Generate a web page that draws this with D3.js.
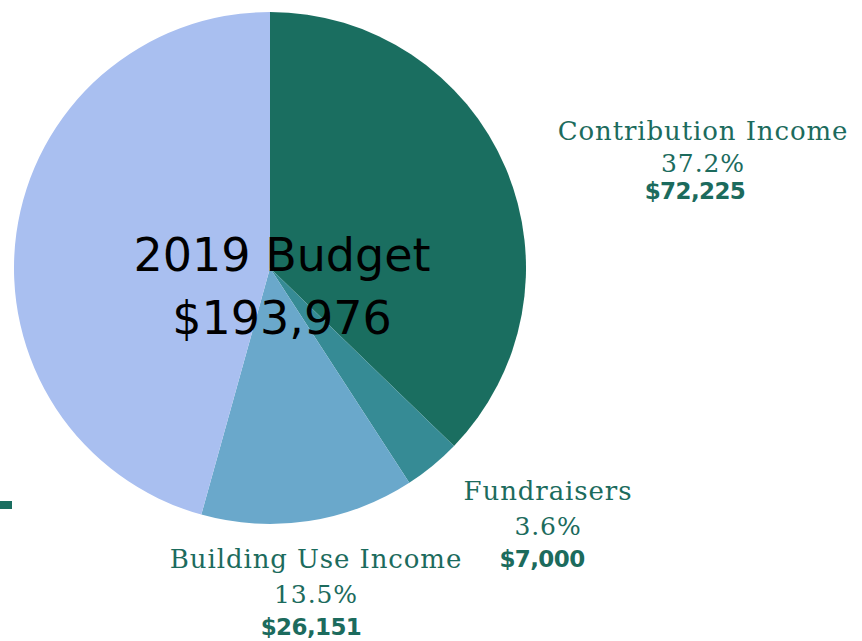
<!DOCTYPE html>
<html>
<head>
<meta charset="utf-8">
<script src="https://cdn.jsdelivr.net/npm/d3@7"></script>
<style>
  body { margin: 0; background: #fff; }
  .lbl { font-family: "DejaVu Serif", serif; fill: #1c6b5d; letter-spacing: 0.9px; }
  .amt { font-family: "DejaVu Sans", sans-serif; fill: #1c6b5d; font-weight: bold; letter-spacing: -0.6px; }
</style>
</head>
<body>
<div id="chart"></div>
<script>
// budget data
var categories = ["Contribution Income", "Fundraisers", "Building Use Income", "Other"];
var amounts = [72225, 7000, 26151, 88600];
var colors = ["#1a6e60", "#368b95", "#6aa8cb", "#a9bff0"];
var showLabel = [true, true, true, false];
var total = 193976;

var width = 862, height = 641;

var svg = d3.select("#chart")
  .append("svg")
    .attr("width", width)
    .attr("height", height);

var g = svg.append("g")
  .attr("transform", "translate(270,268)");

var pie = d3.pie().sort(null).value(function(d) { return d; });
var arc = d3.arc().innerRadius(0).outerRadius(256);

var arcs = pie(amounts);

g.selectAll("path")
  .data(arcs)
  .enter()
  .append("path")
    .attr("d", arc)
    .attr("fill", function(d, i) { return colors[i]; });

// label spots (relative to pie centre)
var labelPos = [[433, -128], [278, 232], [46, 300]];
var amtShift = [-8, -6, -5];
var fmt = d3.format(",");

arcs.forEach(function(d, i) {
  if (!showLabel[i]) return;
  var p = labelPos[i];
  var pct = (amounts[i] / total * 100).toFixed(1) + "%";
  g.append("text").attr("class", "lbl")
    .attr("x", p[0]).attr("y", p[1])
    .attr("text-anchor", "middle")
    .style("font-size", "26px")
    .text(categories[i]);
  g.append("text").attr("class", "lbl")
    .attr("x", p[0]).attr("y", p[1] + (i == 0 ? 32 : 35))
    .attr("text-anchor", "middle")
    .style("font-size", "25px")
    .text(pct);
  g.append("text").attr("class", "amt")
    .attr("x", p[0] + amtShift[i]).attr("y", p[1] + (i == 0 ? 59 : 67))
    .attr("text-anchor", "middle")
    .style("font-size", "23px")
    .text("$" + fmt(amounts[i]));
});

// centre title
g.append("text")
  .attr("x", 12).attr("y", 3)
  .attr("text-anchor", "middle")
  .style("font-family", "'DejaVu Sans', sans-serif")
  .style("font-size", "46px")
  .attr("fill", "#000")
  .text("2019 Budget");
g.append("text")
  .attr("x", 12).attr("y", 66)
  .attr("text-anchor", "middle")
  .style("font-family", "'DejaVu Sans', sans-serif")
  .style("font-size", "46px")
  .attr("fill", "#000")
  .text("$" + fmt(total));

// cut-off legend swatch at the left edge
svg.append("rect")
  .attr("x", 0).attr("y", 501)
  .attr("width", 12).attr("height", 8)
  .attr("fill", colors[0]);
</script>
</body>
</html>
